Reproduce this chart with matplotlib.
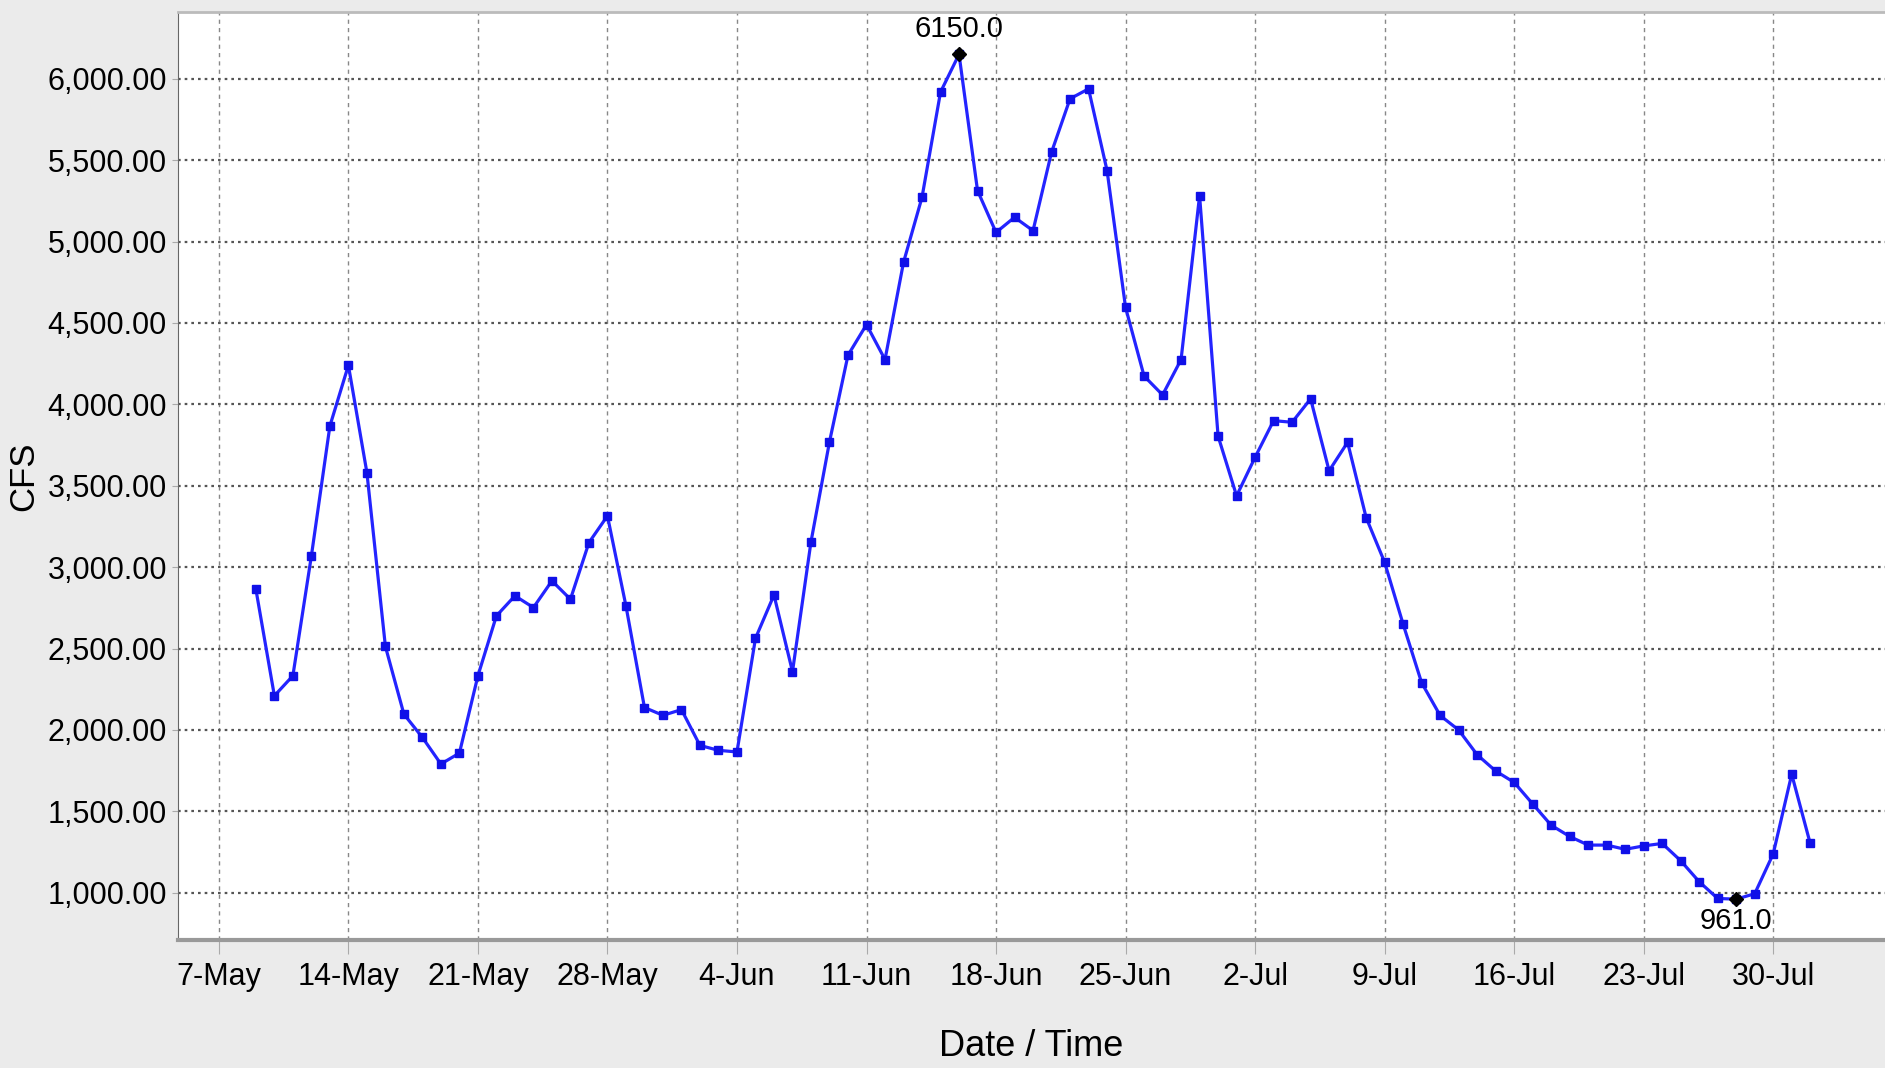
import matplotlib
matplotlib.use("Agg")
import matplotlib.pyplot as plt
import matplotlib.dates as mdates
import matplotlib.ticker as mticker
import numpy as np

# daily flow, 9-May .. 1-Aug
start_date = "2000-05-09"
may = [2865, 2210, 2333, 3069, 3867, 4240, 3581, 2513, 2097, 1954, 1791, 1858,
       2333, 2701, 2824, 2752, 2916, 2803, 3151, 3315, 2762, 2138, 2090]
jun = [2125, 1905, 1875, 1865, 2563, 2829, 2358, 3156, 3770, 4302, 4490, 4275,
       4872, 5272, 5918, 6150, 5313, 5056, 5149, 5067, 5549, 5877, 5938, 5436,
       4595, 4174, 4058, 4275, 5282, 3805]
jul = [3438, 3675, 3900, 3890, 4034, 3592, 3767, 3305, 3030, 2650, 2290, 2089,
       2000, 1848, 1748, 1678, 1546, 1415, 1346, 1293, 1293, 1267, 1288, 1303,
       1197, 1068, 965, 961, 994, 1239, 1728]
aug = [1303]

flow = np.array(may + jun + jul + aug, dtype=float)
dates = np.arange(np.datetime64(start_date), np.datetime64(start_date) + len(flow))

y_ticks = [1000, 1500, 2000, 2500, 3000, 3500, 4000, 4500, 5000, 5500, 6000]
x_tick_start = "2000-05-07"
x_tick_end = "2000-07-30"

font = ["Liberation Sans", "DejaVu Sans"]

fig = plt.figure(figsize=(18.85, 10.68), dpi=100, facecolor="#ebebeb")
ax = fig.add_axes([178 / 1885, 1 - 940 / 1068, 1 - 178 / 1885, (940 - 12) / 1068])
ax.set_facecolor("white")

ax.plot(dates, flow, color="#2424ff", lw=2.3, marker="s", ms=5.5,
        mec="#1010e8", mfc="#1010e8", zorder=3)

# min / max markers
imax = int(np.argmax(flow))
imin = int(np.argmin(flow))
ax.plot(dates[imax], flow[imax], marker="D", color="black", ms=7, zorder=4)
ax.plot(dates[imin], flow[imin], marker="D", color="black", ms=7, zorder=4)
ax.annotate(f"{flow[imax]:.1f}", (dates[imax], flow[imax]), xytext=(0, 8),
            textcoords="offset points", ha="center", va="bottom",
            fontsize=21, family=font)
ax.annotate(f"{flow[imin]:.1f}", (dates[imin], flow[imin]), xytext=(0, -6),
            textcoords="offset points", ha="center", va="top",
            fontsize=21, family=font)

ax.set_ylim(710, 6410)
ax.set_xlim(np.datetime64("2000-05-04") + np.timedelta64(19, "h"),
            np.datetime64("2000-08-05") + np.timedelta64(1, "h"))

ax.set_yticks(y_ticks)
ax.yaxis.set_major_formatter(mticker.FuncFormatter(lambda v, p: f"{v:,.2f}"))
week_ticks = np.arange(np.datetime64(x_tick_start), np.datetime64(x_tick_end) + 1, 7)
ax.set_xticks(week_ticks)
ax.xaxis.set_major_formatter(mdates.DateFormatter("%-d-%b"))

for lab in ax.get_xticklabels() + ax.get_yticklabels():
    lab.set_fontfamily(font)
    lab.set_fontsize(22)
ax.tick_params(axis="x", length=10, color="#aaaaaa", pad=6)
ax.tick_params(axis="y", length=4, color="#aaaaaa", pad=4)

ax.grid(axis="y", color="#555555", lw=1.6, ls=(0, (1.2, 1.8)))
ax.grid(axis="x", color="#888888", lw=1.0, ls=(0, (3, 3)))
ax.set_axisbelow(True)

ax.spines["right"].set_visible(False)
ax.spines["top"].set_color("#bbbbbb")
ax.spines["top"].set_linewidth(2)
ax.spines["left"].set_color("#666666")
ax.spines["bottom"].set_color("#999999")
ax.spines["bottom"].set_linewidth(3)

fig.text(24 / 1885, 1 - 476 / 1068, "CFS", rotation=90, ha="center", va="center",
         fontsize=25, family=font)
fig.text(1031 / 1885, 1 - 1046 / 1068, "Date / Time", ha="center", va="center",
         fontsize=26, family=font)

fig.savefig("out.png", dpi=100, facecolor=fig.get_facecolor())
